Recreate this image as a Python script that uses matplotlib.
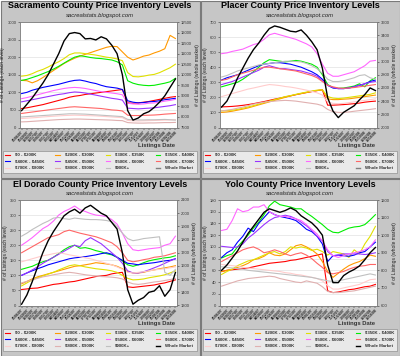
import matplotlib
matplotlib.use("Agg")
import matplotlib.pyplot as plt
from matplotlib.patches import Rectangle
from matplotlib.lines import Line2D

plt.rcParams['font.family'] = ['Liberation Sans', 'DejaVu Sans']

# ---- data -------------------------------------------------------------
dates = ["01/06/07", "01/20/07", "02/03/07", "02/17/07", "03/03/07", "03/17/07",
         "03/31/07", "04/14/07", "04/28/07", "05/12/07", "05/26/07", "06/09/07",
         "06/23/07", "07/07/07", "07/21/07", "08/04/07", "08/18/07", "09/01/07",
         "09/15/07", "09/29/07", "10/13/07", "10/27/07", "11/10/07", "11/24/07",
         "12/08/07", "12/22/07", "01/05/08", "01/19/08", "02/02/08", "02/16/08"]

levels = ["$0 - $200K", "$200K - $300K", "$300K - $350K", "$350K - $400K",
          "$400K - $450K", "$450K - $500K", "$500K - $600K", "$600K - $700K",
          "$700K - $800K", "$800K - $900K", "$900K+"]
level_colors = ["#ff0000", "#ff9900", "#e0e000", "#00ee00", "#0000ff", "#9933ff",
                "#ff66ff", "#ff6666", "#ffcccc", "#e0b0b0", "#c0c0c0"]

# Sacramento
sac_levels = [
    [540, 560, 590, 620, 650, 690, 730, 770, 810, 860, 890, 910, 940, 960, 980, 1000, 1020, 1040, 1060, 1080, 700, 690, 700, 720, 740, 770, 800, 830, 860, 880],
    [1340, 1330, 1270, 1330, 1420, 1520, 1620, 1720, 1820, 1900, 1970, 2030, 2080, 2130, 2180, 2230, 2280, 2310, 2300, 2150, 2000, 1920, 1970, 2030, 2060, 2120, 2170, 2240, 2620, 2530],
    [1460, 1480, 1530, 1600, 1650, 1720, 1800, 1870, 1960, 2070, 2120, 2120, 2100, 2080, 2060, 2030, 2000, 1980, 1950, 1900, 1560, 1450, 1440, 1460, 1490, 1510, 1560, 1630, 1700, 1800],
    [1340, 1370, 1420, 1470, 1530, 1590, 1660, 1740, 1830, 1920, 2000, 2040, 2020, 1990, 1970, 1960, 1940, 1920, 1870, 1780, 1330, 1260, 1220, 1200, 1190, 1200, 1230, 1260, 1300, 1400],
    [965, 1000, 1060, 1100, 1140, 1170, 1200, 1230, 1270, 1310, 1340, 1350, 1320, 1280, 1250, 1200, 1160, 1140, 1120, 1080, 760, 720, 700, 710, 730, 740, 760, 790, 810, 830],
    [730, 760, 790, 820, 850, 880, 910, 940, 960, 990, 1010, 1000, 980, 950, 920, 890, 860, 830, 810, 780, 550, 540, 530, 540, 550, 560, 580, 600, 620, 650],
    [820, 850, 890, 930, 970, 1010, 1050, 1080, 1110, 1130, 1140, 1130, 1110, 1080, 1050, 1020, 1000, 980, 960, 930, 690, 670, 660, 670, 690, 700, 720, 750, 770, 800],
    [400, 420, 440, 460, 480, 500, 520, 540, 560, 580, 590, 580, 570, 560, 550, 540, 520, 500, 490, 470, 350, 340, 340, 345, 350, 355, 365, 380, 390, 400],
    [255, 265, 275, 285, 300, 310, 320, 330, 340, 345, 350, 345, 340, 335, 330, 320, 310, 300, 290, 280, 200, 190, 185, 190, 195, 200, 205, 210, 215, 220],
    [160, 165, 175, 185, 195, 205, 215, 225, 230, 235, 240, 240, 235, 230, 225, 220, 215, 210, 200, 195, 140, 130, 125, 125, 130, 130, 135, 140, 140, 145],
    [300, 310, 320, 330, 340, 350, 360, 370, 380, 390, 390, 385, 380, 370, 360, 350, 340, 330, 320, 310, 230, 220, 215, 215, 220, 220, 225, 230, 220, 210],
]
sac_whole = [8300, 8600, 8900, 9250, 9600, 10000, 10500, 11000, 11600, 11950, 12000, 11950, 11700, 11720, 11650, 11800, 11700, 11400, 11000, 10000, 8300, 7850, 7950, 8150, 8250, 8450, 8700, 9000, 9400, 9800]

# Placer
pla_levels = [
    [137, 138, 140, 143, 147, 152, 158, 165, 172, 180, 188, 195, 203, 210, 218, 225, 232, 238, 245, 250, 148, 148, 150, 152, 155, 158, 162, 168, 172, 175],
    [100, 103, 108, 115, 122, 130, 140, 150, 160, 170, 180, 190, 200, 210, 218, 225, 232, 240, 245, 250, 190, 185, 185, 188, 190, 195, 200, 205, 210, 215],
    [110, 112, 115, 120, 128, 136, 145, 155, 165, 175, 185, 195, 205, 212, 220, 228, 235, 242, 248, 250, 205, 195, 192, 195, 200, 205, 210, 215, 220, 230],
    [270, 280, 290, 300, 320, 345, 370, 400, 430, 450, 445, 440, 435, 440, 445, 440, 430, 420, 400, 350, 285, 265, 260, 262, 268, 275, 290, 270, 310, 330],
    [315, 330, 340, 350, 365, 380, 395, 410, 420, 425, 430, 430, 425, 420, 410, 400, 385, 370, 350, 320, 280, 262, 258, 258, 262, 270, 280, 290, 305, 315],
    [285, 295, 305, 320, 335, 350, 365, 380, 400, 410, 400, 390, 390, 385, 380, 375, 365, 355, 340, 310, 280, 265, 258, 258, 262, 270, 280, 290, 300, 305],
    [490, 495, 505, 512, 520, 535, 550, 560, 585, 615, 625, 615, 605, 595, 585, 570, 555, 535, 490, 420, 360, 340, 340, 350, 360, 370, 390, 410, 440, 445],
    [313, 320, 335, 350, 360, 370, 380, 390, 400, 400, 395, 390, 385, 380, 375, 365, 355, 345, 330, 305, 280, 270, 262, 260, 262, 265, 270, 275, 280, 285],
    [205, 215, 225, 235, 245, 255, 262, 270, 278, 285, 282, 278, 272, 268, 262, 255, 248, 240, 230, 215, 170, 160, 158, 160, 165, 170, 175, 180, 185, 190],
    [110, 115, 120, 128, 135, 145, 155, 162, 168, 172, 175, 178, 180, 178, 175, 170, 165, 160, 155, 145, 120, 105, 100, 100, 103, 108, 112, 116, 120, 125],
    [335, 345, 360, 375, 385, 395, 405, 415, 420, 425, 430, 435, 440, 440, 438, 435, 425, 410, 390, 360, 320, 305, 305, 310, 320, 330, 345, 350, 330, 320],
]
pla_whole = [2310, 2400, 2560, 2750, 2900, 3050, 3180, 3280, 3400, 3500, 3540, 3520, 3490, 3460, 3450, 3480, 3400, 3300, 3180, 2900, 2450, 2250, 2150, 2230, 2280, 2330, 2420, 2500, 2600, 2560]

# El Dorado
eld_levels = [
    [53, 55, 57, 58, 62, 66, 70, 72, 75, 78, 80, 84, 88, 92, 96, 98, 100, 105, 108, 110, 62, 60, 62, 64, 66, 68, 72, 75, 80, 85],
    [72, 80, 88, 95, 100, 105, 110, 115, 120, 125, 130, 132, 135, 138, 142, 140, 138, 135, 130, 122, 112, 108, 108, 110, 115, 118, 122, 125, 128, 132],
    [65, 75, 85, 92, 98, 104, 110, 118, 125, 132, 135, 132, 128, 125, 122, 120, 118, 115, 110, 100, 90, 85, 86, 88, 92, 95, 98, 102, 108, 115],
    [120, 125, 130, 138, 145, 150, 160, 172, 185, 195, 200, 190, 192, 188, 182, 178, 172, 168, 160, 148, 135, 130, 135, 142, 148, 152, 155, 158, 160, 165],
    [100, 108, 115, 122, 128, 135, 140, 145, 150, 155, 158, 160, 162, 165, 168, 172, 175, 170, 160, 150, 140, 138, 135, 138, 140, 142, 145, 148, 150, 155],
    [100, 108, 118, 128, 140, 150, 160, 170, 180, 190, 200, 195, 215, 225, 215, 205, 190, 175, 160, 140, 115, 108, 108, 112, 118, 125, 132, 140, 148, 155],
    [200, 212, 225, 240, 255, 265, 280, 300, 312, 320, 330, 318, 312, 305, 300, 298, 295, 285, 270, 240, 205, 185, 182, 185, 188, 190, 192, 200, 205, 230],
    [175, 185, 195, 205, 215, 225, 230, 235, 245, 250, 245, 240, 236, 232, 228, 222, 215, 208, 195, 175, 150, 145, 148, 152, 155, 160, 162, 165, 170, 175],
    [145, 150, 155, 160, 165, 168, 172, 175, 172, 168, 165, 162, 158, 155, 150, 145, 140, 135, 128, 120, 110, 108, 110, 112, 115, 118, 120, 122, 125, 128],
    [75, 80, 85, 90, 95, 98, 102, 105, 108, 110, 108, 105, 102, 100, 98, 96, 95, 94, 92, 88, 78, 72, 70, 72, 75, 78, 80, 83, 86, 90],
    [230, 240, 252, 262, 272, 280, 290, 292, 288, 286, 290, 288, 286, 285, 285, 284, 282, 278, 262, 240, 222, 215, 218, 222, 224, 226, 228, 110, 100, 120],
]
eld_whole = [1310, 1380, 1480, 1590, 1700, 1790, 1860, 1920, 1980, 2010, 2030, 2000, 2040, 2060, 2030, 2000, 1980, 1930, 1880, 1700, 1420, 1310, 1340, 1360, 1400, 1410, 1450, 1370, 1420, 1550]

# Yolo
yol_levels = [
    [58, 60, 61, 62, 63, 64, 66, 68, 70, 72, 73, 74, 75, 77, 78, 80, 82, 84, 86, 88, 25, 22, 23, 25, 27, 28, 30, 32, 33, 36],
    [58, 60, 62, 65, 68, 72, 78, 80, 84, 90, 86, 85, 88, 95, 102, 104, 100, 95, 88, 75, 58, 48, 55, 62, 68, 72, 75, 80, 86, 84],
    [53, 58, 62, 68, 72, 76, 78, 82, 86, 90, 92, 88, 92, 100, 98, 100, 98, 94, 96, 92, 86, 92, 90, 88, 82, 95, 88, 105, 118, 135],
    [81, 85, 88, 100, 110, 120, 132, 142, 155, 170, 178, 172, 170, 168, 165, 165, 158, 152, 145, 138, 130, 125, 124, 128, 132, 134, 135, 138, 146, 155],
    [82, 90, 95, 108, 118, 132, 126, 140, 150, 160, 155, 152, 150, 148, 145, 138, 130, 126, 118, 105, 75, 85, 86, 85, 84, 86, 90, 92, 100, 108],
    [101, 100, 99, 100, 105, 115, 122, 130, 138, 145, 150, 152, 154, 152, 148, 142, 136, 128, 118, 110, 92, 85, 86, 88, 88, 88, 88, 87, 88, 90],
    [128, 130, 145, 165, 160, 162, 168, 168, 172, 160, 155, 152, 152, 150, 148, 145, 138, 130, 122, 110, 95, 85, 82, 85, 88, 90, 92, 95, 100, 112],
    [75, 80, 85, 90, 95, 98, 100, 96, 90, 92, 95, 92, 88, 85, 88, 90, 86, 80, 72, 65, 56, 54, 56, 58, 62, 65, 67, 68, 70, 70],
    [70, 69, 68, 67, 65, 64, 63, 62, 61, 60, 59, 58, 56, 55, 53, 52, 50, 48, 46, 42, 34, 28, 28, 30, 32, 34, 36, 40, 44, 45],
    [33, 36, 39, 42, 44, 46, 47, 48, 49, 50, 49, 46, 44, 42, 40, 39, 42, 40, 38, 32, 24, 22, 22, 23, 24, 25, 27, 29, 31, 33],
    [66, 65, 64, 63, 62, 60, 59, 58, 57, 56, 55, 54, 53, 52, 51, 50, 49, 48, 46, 44, 42, 41, 42, 44, 46, 48, 50, 52, 54, 52],
]
yol_whole = [800, 830, 870, 910, 960, 1010, 1050, 1090, 1130, 1150, 1140, 1130, 1140, 1155, 1140, 1110, 1090, 1070, 1040, 1000, 830, 730, 730, 770, 790, 805, 825, 860, 900, 930]

panels = [
    ("Sacramento County Price Inventory Levels", sac_levels, sac_whole, (0, 3000, 500), (7500, 12500, 500), "#808080"),
    ("Placer County Price Inventory Levels", pla_levels, pla_whole, (0, 700, 100), (2000, 3600, 200), "#808080"),
    ("El Dorado County Price Inventory Levels", eld_levels, eld_whole, (0, 350, 50), (1300, 2100, 100), "#000000"),
    ("Yolo County Price Inventory Levels", yol_levels, yol_whole, (0, 180, 20), (600, 1200, 100), "#000000"),
]
offsets = [(0, 0), (200, 0), (0, 178), (200, 178)]

W, H = 400, 356
fig = plt.figure(figsize=(4.0, 3.56), dpi=100)
fig.patch.set_facecolor("#ffffff")


def fx(px):
    return px / W


def fy(py):
    return 1 - py / H


for (title, lv, whole, lax, rax, wm_leg), (ox, oy) in zip(panels, offsets):
    # panel background
    bg = Rectangle((fx(ox + 0.5), fy(oy + 177.5)), 199 / W, 177 / H,
                   transform=fig.transFigure, facecolor="#c6c6c6",
                   edgecolor="#7a7a7a", linewidth=0.8, zorder=-10)
    fig.add_artist(bg)
    fig.text(fx(ox + 100), fy(oy + 6), title, ha="center", va="center",
             fontsize=6.5, fontweight="bold", color="#000000")
    fig.text(fx(ox + 100), fy(oy + 15.5), "sacrealstats.blogspot.com", ha="center",
             va="center", fontsize=4.2, style="italic", color="#222222")

    ax = fig.add_axes([fx(ox + 20), fy(oy + 127.5), 157 / W, 105.5 / H])
    ax.set_facecolor("#ffffff")
    x = list(range(len(dates)))
    lines = []
    for vals, c in zip(lv, level_colors):
        ln, = ax.plot(x, vals, color=c, lw=0.8)
        lines.append(ln)
    ax.set_xlim(-0.3, len(dates) - 0.7)
    ax.set_ylim(lax[0], lax[1])
    ax.set_yticks(range(lax[0], lax[1] + 1, lax[2]))
    ax.grid(axis="y", color="#e2e2e2", lw=0.5)
    ax.set_axisbelow(True)
    ax.set_xticks(x)
    ax.set_xticklabels(dates, rotation=45, ha="right", rotation_mode="anchor",
                       fontsize=2.5, color="#222222", fontweight="bold")
    ax.tick_params(axis="y", labelsize=3.0, length=1.5, width=0.4, pad=1,
                   colors="#333333")
    ax.tick_params(axis="x", length=1.2, width=0.3, pad=0.8)
    for s in ax.spines.values():
        s.set_color("#808080")
        s.set_linewidth(0.5)
    ax.set_ylabel("# of Listings (each level)", fontsize=3.6, labelpad=1.5,
                  color="#222222")

    ax2 = ax.twinx()
    ax2.plot(x, whole, color="#000000", lw=1.0)
    ax2.set_ylim(rax[0], rax[1])
    ax2.set_yticks(range(rax[0], rax[1] + 1, rax[2]))
    ax2.tick_params(axis="y", labelsize=3.0, length=1.5, width=0.4, pad=1,
                    colors="#333333")
    for s in ax2.spines.values():
        s.set_color("#808080")
        s.set_linewidth(0.5)
    ax2.set_ylabel("# of Listings (whole market)", fontsize=3.6, labelpad=2,
                   color="#222222", rotation=90)

    fig.text(fx(ox + 157), fy(oy + 146), "Listings Date", ha="center", va="center",
             fontsize=4.2, fontweight="bold", color="#333333")

    handles = lines + [Line2D([], [], color=wm_leg, lw=1.0)]
    labels = [s.replace("$", r"\$") for s in levels] + ["Whole Market"]
    order = [0, 4, 8, 1, 5, 9, 2, 6, 10, 3, 7, 11]
    leg = ax2.legend([handles[i] for i in order], [labels[i] for i in order],
                     ncol=4, loc="upper left",
                     bbox_to_anchor=(fx(ox + 3), fy(oy + 174.5), 194 / W, 23.5 / H),
                     bbox_transform=fig.transFigure, mode="expand", borderaxespad=0,
                     fontsize=3.2, handlelength=1.0, handletextpad=1.2,
                     labelspacing=0.55, borderpad=0.5, columnspacing=1.0,
                     frameon=True, fancybox=False)
    leg.get_frame().set_facecolor("#f2f2f2")
    leg.get_frame().set_edgecolor("#808080")
    leg.get_frame().set_linewidth(0.5)
    for t in leg.get_texts():
        t.set_fontweight("bold")
        t.set_color("#333333")

fig.savefig("out.png", dpi=100, facecolor=fig.get_facecolor())
